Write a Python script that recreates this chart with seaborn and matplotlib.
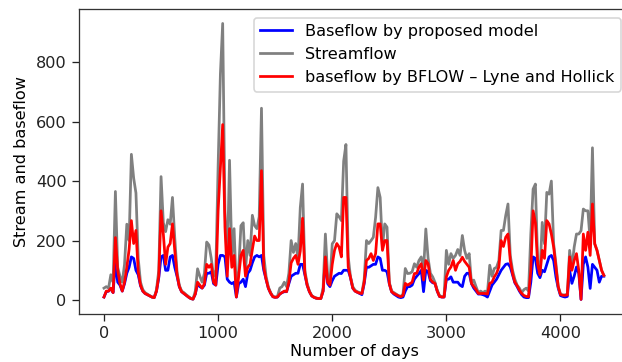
import numpy as np
import pandas as pd
import matplotlib
matplotlib.use("Agg")
import matplotlib.pyplot as plt
import seaborn as sns

# Day index (every 20 days) and values
days = list(range(0, 4400, 20))

streamflow = [
    40, 45, 40, 85, 60, 365, 110, 80, 60, 120,
    255, 200, 490, 410, 360, 140, 60, 35, 25, 20,
    15, 10, 8, 35, 100, 415, 260, 230, 270, 255,
    345, 210, 95, 50, 30, 25, 18, 12, 6, 3,
    30, 105, 80, 60, 90, 195, 185, 140, 80, 100,
    450, 760, 930, 300, 120, 470, 150, 240, 30, 100,
    250, 260, 100, 200, 150, 285, 250, 240, 280, 645,
    150, 80, 44, 25, 12, 10, 12, 40, 45, 60,
    45, 90, 200, 160, 190, 140, 311, 390, 100, 55,
    30, 15, 10, 7, 5, 6, 40, 222, 80, 60,
    189, 200, 290, 280, 267, 467, 523, 145, 78, 45,
    33, 28, 25, 23, 70, 200, 190, 200, 211, 278,
    378, 345, 178, 256, 245, 60, 30, 25, 20, 15,
    12, 20, 106, 89, 90, 95, 122, 110, 133, 145,
    100, 239, 140, 90, 78, 60, 33, 15, 11, 12,
    167, 120, 156, 140, 150, 170, 150, 217, 167, 140,
    156, 56, 67, 45, 25, 30, 25, 30, 25, 117,
    80, 106, 110, 133, 234, 234, 284, 323, 150, 100,
    70, 50, 40, 25, 35, 40, 30, 222, 373, 390,
    133, 90, 261, 189, 362, 356, 400, 189, 122, 45,
    20, 17, 17, 20, 167, 110, 178, 222, 222, 233,
    306, 300, 300, 200, 512, 189, 167, 133, 100, 83,
]

bflow_lh = [
    10, 30, 30, 40, 25, 210, 100, 55, 30, 60,
    110, 170, 267, 190, 234, 95, 50, 30, 22, 18,
    14, 10, 8, 30, 80, 300, 222, 120, 178, 190,
    256, 167, 85, 45, 28, 22, 16, 10, 5, 3,
    20, 60, 50, 40, 55, 120, 110, 120, 60, 50,
    300, 445, 590, 245, 80, 240, 110, 150, 10, 80,
    150, 167, 80, 111, 120, 170, 215, 200, 200, 435,
    110, 70, 40, 23, 11, 9, 10, 20, 25, 30,
    28, 60, 125, 140, 150, 120, 165, 275, 90, 50,
    28, 14, 9, 6, 5, 5, 30, 145, 60, 50,
    120, 167, 190, 178, 145, 345, 345, 111, 75, 40,
    30, 26, 23, 22, 60, 133, 140, 156, 133, 156,
    256, 256, 167, 200, 200, 55, 28, 22, 18, 14,
    11, 15, 56, 50, 55, 60, 89, 90, 111, 122,
    67, 133, 122, 70, 60, 56, 30, 12, 10, 10,
    78, 100, 111, 133, 100, 122, 130, 144, 130, 120,
    110, 56, 45, 35, 22, 22, 22, 22, 20, 56,
    60, 78, 90, 111, 200, 180, 211, 222, 133, 89,
    60, 48, 33, 22, 15, 12, 11, 100, 300, 260,
    120, 85, 167, 140, 267, 256, 222, 178, 110, 45,
    18, 16, 16, 17, 145, 100, 133, 156, 100, 2,
    222, 167, 228, 150, 323, 189, 167, 133, 100, 83,
]

baseflow_model = [
    10, 28, 30, 38, 25, 130, 60, 50, 30, 55,
    90, 110, 145, 140, 100, 85, 48, 30, 22, 18,
    14, 10, 8, 30, 75, 145, 150, 100, 100, 145,
    150, 110, 80, 45, 28, 22, 16, 10, 5, 3,
    20, 55, 45, 40, 50, 90, 90, 95, 55, 50,
    120, 150, 150, 145, 70, 60, 55, 60, 10, 55,
    60, 70, 45, 90, 100, 125, 145, 150, 145, 150,
    100, 70, 40, 23, 11, 9, 10, 20, 25, 28,
    28, 55, 80, 85, 90, 90, 120, 120, 85, 50,
    28, 14, 9, 6, 5, 5, 30, 140, 55, 45,
    65, 80, 85, 90, 89, 100, 100, 100, 75, 40,
    30, 26, 22, 18, 55, 111, 110, 115, 120, 120,
    145, 140, 100, 100, 95, 55, 28, 20, 15, 10,
    8, 10, 30, 45, 45, 50, 70, 80, 89, 100,
    28, 100, 95, 65, 58, 56, 30, 12, 10, 10,
    70, 70, 78, 60, 60, 60, 50, 45, 80, 90,
    90, 55, 40, 30, 20, 20, 18, 15, 10, 30,
    50, 60, 70, 85, 100, 110, 120, 122, 111, 85,
    58, 45, 30, 18, 10, 8, 8, 60, 145, 140,
    90, 75, 100, 95, 120, 145, 150, 133, 78, 40,
    15, 12, 10, 12, 100, 56, 80, 111, 90, 2,
    120, 145, 111, 39, 120, 110, 100, 60, 80, 80,
]

df = pd.DataFrame({
    "day": days,
    "model": baseflow_model,
    "stream": streamflow,
    "bflow": bflow_lh,
})

DPI = 116
fig = plt.figure(figsize=(622 / DPI, 362 / DPI), dpi=DPI)
ax = fig.add_axes([0.127, 0.1326, 0.8842, 0.8412])

LW = 1.7
sns.lineplot(data=df, x="day", y="model", color="blue", linewidth=LW,
             label="Baseflow by proposed model", ax=ax)
sns.lineplot(data=df, x="day", y="stream", color="grey", linewidth=LW,
             label="Streamflow", ax=ax)
sns.lineplot(data=df, x="day", y="bflow", color="red", linewidth=LW,
             label="baseflow by BFLOW \u2013 Lyne and Hollick", ax=ax)

ax.set_xlim(-219, 4600)
ax.set_ylim(-47, 977)
ax.set_xticks([0, 1000, 2000, 3000, 4000])
ax.set_yticks([0, 200, 400, 600, 800])
ax.set_xlabel("Number of days", fontsize=10, labelpad=1.5)
ax.set_ylabel("Stream and baseflow", fontsize=10)
ax.tick_params(labelsize=10, length=4.2, colors="#222222")
for sp in ax.spines.values():
    sp.set_color("#333333")
ax.legend(loc="upper right", fontsize=10)

fig.savefig("out.png", dpi=DPI)
